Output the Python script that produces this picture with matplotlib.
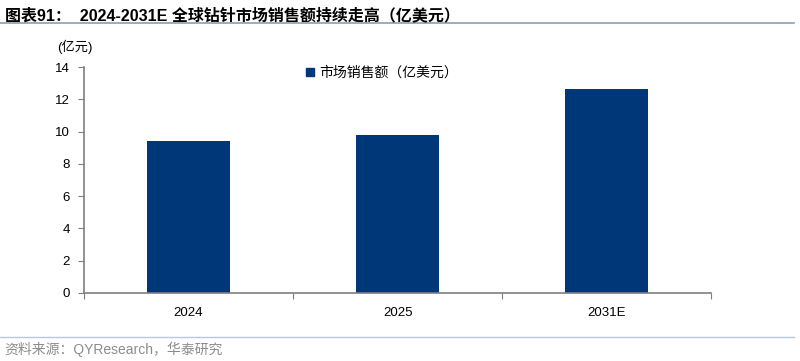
import matplotlib.pyplot as plt
from matplotlib.lines import Line2D

plt.rcParams['font.family'] = ['Liberation Sans', 'Noto Sans CJK SC', 'DejaVu Sans']

# data
years = ['2024', '2025', '2031E']
sales = [9.44, 9.78, 12.65]
yticks = [0, 2, 4, 6, 8, 10, 12, 14]

bar_color = '#003778'
axis_color = '#7f7f7f'

fig = plt.figure(figsize=(8, 3.61), dpi=100)
ax = fig.add_axes([0.105, 0.189, 0.784, 0.625])

x = range(len(years))
ax.bar(x, sales, width=0.40, color=bar_color, zorder=2)

ax.set_xlim(-0.5, len(years) - 0.5)
ax.set_ylim(0, 14)
ax.set_yticks(yticks)
ax.set_yticklabels([str(t) for t in yticks], fontsize=9.5)

# boundary ticks, labels in the middle of each category
ax.set_xticks([i - 0.5 for i in range(len(years) + 1)])
ax.set_xticklabels([''] * (len(years) + 1))
ax.set_xticks(list(x), minor=True)
ax.set_xticklabels(years, minor=True, fontsize=9.5)
ax.tick_params(axis='x', which='minor', length=0, pad=10)
ax.tick_params(axis='x', which='major', length=4, direction='out', color=axis_color)
ax.tick_params(axis='y', length=4, direction='out', color=axis_color, pad=6)

for side in ['top', 'right']:
    ax.spines[side].set_visible(False)
for side in ['left', 'bottom']:
    ax.spines[side].set_color(axis_color)
    ax.spines[side].set_linewidth(1.2)

# legend
handle = Line2D([], [], marker='s', linestyle='none', color=bar_color, markersize=6)
ax.legend([handle], ['市场销售额（亿美元）'], loc='center left',
          bbox_to_anchor=(0.345, 0.975), frameon=False, fontsize=10,
          handlelength=0.6, handletextpad=0.35, borderaxespad=0)

# unit label
fig.text(0.071, 0.87, '(亿元)', fontsize=9.5, ha='left', va='center')

# title and bottom source
fig.text(0.006, 0.958, '图表91：  2024-2031E 全球钻针市场销售额持续走高（亿美元）',
         fontsize=11.5, fontweight='bold', ha='left', va='center')
fig.add_artist(Line2D([0.0, 0.993], [0.936, 0.936], color='#8d9db5', linewidth=1.2))
fig.add_artist(Line2D([0.0, 0.993], [0.066, 0.066], color='#b7c9e0', linewidth=1.0))
fig.text(0.006, 0.033, '资料来源：QYResearch，华泰研究', fontsize=10,
         color='#8c8c8c', ha='left', va='center')

fig.savefig('out.png', dpi=100)
